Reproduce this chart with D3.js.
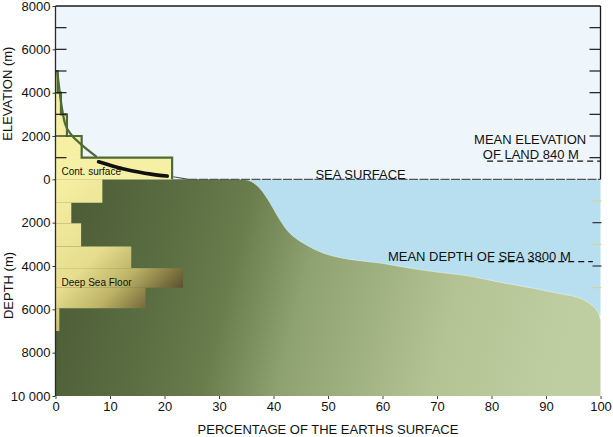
<!DOCTYPE html>
<html><head><meta charset="utf-8">
<script src="https://cdn.jsdelivr.net/npm/d3@7"></script>
<style>body{margin:0;background:#fff}svg{display:block;font-family:"Liberation Sans",Arial,Helvetica,sans-serif}</style>
</head><body><svg id="c" width="613" height="437"></svg>
<script>
// ---------- data ----------
const xTicks = [0,10,20,30,40,50,60,70,80,90,100];
const yTicks = [8000,6000,4000,2000,0,-2000,-4000,-6000,-8000,-10000];
const innerTicks = [1000,2000,3000,4000,5000,6000,7000];
const seaSideTicks = [-1000,-2000,-3000,-4000,-5000];

// land elevation histogram (% of Earth's surface per 1000 m band)
const landBandBottom = [0,1000,2000,3000,4000];
const landBandTop    = [1000,2000,3000,4000,5000];
const landBandPct    = [21.4,4.8,2.1,1.0,0.4];

// ocean depth histogram
const oceanBandTop    = [0,1080,2030,3100,4100,5000,5950];
const oceanBandBottom = [1080,2030,3100,4100,5000,5950,7000];
const oceanBandPct    = [8.6,2.9,4.7,13.9,23.4,16.5,0.7];

// cumulative (hypsographic) curve, land part
const landCurvePct  = [0.33,1.14,1.74,2.97,4.5,7.56];
const landCurveElev = [4965,3350,2580,2045,1660,1040];
// continental surface segment
const contPct  = [7.9,10,12.5,15,17.5,20.5];
const contElev = [810,650,480,350,240,150];

// cumulative curve, ocean part (depth in m)
const oceanCurvePct   = [33.5,35,36,37.5,39.4,41.2,43,45.5,49.2,53,57.1,59.5,65.6,70,74.8,77.9,82,87.1,92,96.2,98.6,99.6,100];
const oceanCurveDepth = [0,20,110,415,1100,1880,2490,2950,3410,3650,3790,3860,4120,4280,4420,4560,4770,5000,5250,5480,5850,6150,6500];

const meanLandElev = 840;
const meanSeaDepth = 3800;

// ---------- drawing ----------
const svg = d3.select("#c");
const x = d3.scaleLinear([0,100],[55.5,600.5]);
const y = d3.scaleLinear([-10000,8000],[396,6]);

const defs = svg.append("defs");
const gg = defs.append("linearGradient").attr("id","green").attr("x1","0").attr("y1","0").attr("x2","1").attr("y2","0.1");
[[0,"#4a5934"],[0.23,"#5b6e42"],[0.36,"#687c4c"],[0.5,"#8ea170"],[0.78,"#b4c394"],[1,"#bfcea0"]].forEach(s=>gg.append("stop").attr("offset",s[0]).attr("stop-color",s[1]));
const yg = defs.append("linearGradient").attr("id","yellow").attr("gradientUnits","userSpaceOnUse")
  .attr("x1",x(0)).attr("y1",y(-500)).attr("x2",x(23)).attr("y2",y(-6200));
[[0,"#f5efa2"],[0.42,"#e6dd8e"],[0.64,"#bdb266"],[0.84,"#72683a"],[1,"#3a3320"]].forEach(s=>yg.append("stop").attr("offset",s[0]).attr("stop-color",s[1]));

// sky
svg.append("rect").attr("x",x(0)).attr("y",y(8000)).attr("width",x(100)-x(0)).attr("height",y(0)-y(8000)).attr("fill","#eef6fb");
// ocean water
svg.append("rect").attr("x",x(30)).attr("y",y(0)).attr("width",x(100)-x(30)).attr("height",y(-6300)-y(0)).attr("fill","#b8dff0");

// sea floor (green) area
const oceanPts = oceanCurvePct.map((p,i)=>[x(p),y(-oceanCurveDepth[i])]);
const curveStr = d3.line().curve(d3.curveCatmullRom.alpha(0.5))(oceanPts);
const floorPath = curveStr + "L" + x(100) + "," + y(-10000) + "L" + x(0) + "," + y(-10000) + "L" + x(0) + "," + y(0) + "Z";
svg.append("path").attr("d",floorPath).attr("fill","url(#green)");
svg.append("path").attr("d",curveStr).attr("fill","none").attr("stroke","#eaf4ee").attr("stroke-width",0.8).attr("opacity",0.7);

// ocean histogram
svg.selectAll("rect.ob").data(oceanBandPct).join("rect").attr("class","ob")
  .attr("x",x(0)).attr("width",d=>x(d)-x(0))
  .attr("y",(d,i)=>y(-oceanBandTop[i])).attr("height",(d,i)=>y(-oceanBandBottom[i])-y(-oceanBandTop[i]))
  .attr("fill","url(#yellow)");

// land histogram
svg.selectAll("rect.lb").data(landBandPct).join("rect").attr("class","lb")
  .attr("x",x(0)).attr("width",d=>x(d)-x(0))
  .attr("y",(d,i)=>y(landBandTop[i])).attr("height",(d,i)=>y(landBandBottom[i])-y(landBandTop[i]))
  .attr("fill","#f6f0a4");
const stepPts = [];
landBandPct.forEach((p,i)=>{stepPts.push([x(p),y(landBandBottom[i])]);stepPts.push([x(p),y(landBandTop[i])]);});
stepPts.push([x(0),y(landBandTop[landBandTop.length-1])]);
svg.append("path").attr("d",d3.line()(stepPts)).attr("fill","none").attr("stroke","#4f6a36").attr("stroke-width",2.2);

// land cumulative curve
svg.append("path").attr("d",d3.line().curve(d3.curveMonotoneX)(landCurvePct.map((p,i)=>[x(p),y(landCurveElev[i])])))
  .attr("fill","none").attr("stroke","#4f6a36").attr("stroke-width",2.2);
svg.append("path").attr("d",d3.line().curve(d3.curveMonotoneX)(contPct.map((p,i)=>[x(p),y(contElev[i])])))
  .attr("fill","none").attr("stroke","#111").attr("stroke-width",3.6).attr("stroke-linecap","round");

// sea surface line
svg.append("line").attr("x1",x(21.6)).attr("y1",y(120)).attr("x2",x(24.4)).attr("y2",y(0)).attr("stroke","#555").attr("stroke-width",1.2);
svg.append("line").attr("x1",x(24.4)).attr("x2",x(100)).attr("y1",y(0)).attr("y2",y(0))
  .attr("stroke","#555").attr("stroke-width",1.3).attr("stroke-dasharray","9,1.5");

// mean lines
svg.append("line").attr("x1",x(79.2)).attr("x2",x(100)).attr("y1",y(meanLandElev)).attr("y2",y(meanLandElev))
  .attr("stroke","#111").attr("stroke-width",1.3).attr("stroke-dasharray","6,4");
svg.append("line").attr("x1",x(79.4)).attr("x2",x(98.6)).attr("y1",y(-meanSeaDepth)).attr("y2",y(-meanSeaDepth))
  .attr("stroke","#111").attr("stroke-width",1.3).attr("stroke-dasharray","6,4");

// frame
const fr = svg.append("g").attr("stroke","#1a1a1a").attr("stroke-width",1.3).attr("fill","none");
fr.append("line").attr("x1",x(0)).attr("x2",x(100)).attr("y1",y(8000)).attr("y2",y(8000));
fr.append("line").attr("x1",x(100)).attr("x2",x(100)).attr("y1",y(8000)).attr("y2",y(0));
fr.append("line").attr("x1",x(0)).attr("x2",x(0)).attr("y1",y(8000)).attr("y2",y(-10000)).attr("stroke","#2a2a2a");
// inner ticks above sea level
svg.selectAll("line.il").data(innerTicks).join("line").attr("class","il")
  .attr("x1",x(0)).attr("x2",x(0)+11).attr("y1",d=>y(d)).attr("y2",d=>y(d)).attr("stroke","#1a1a1a").attr("stroke-width",1.2);
svg.selectAll("line.ir").data(innerTicks).join("line").attr("class","ir")
  .attr("x1",x(100)).attr("x2",x(100)-11).attr("y1",d=>y(d)).attr("y2",d=>y(d)).attr("stroke","#1a1a1a").attr("stroke-width",1.2);
svg.selectAll("line.sr").data(seaSideTicks).join("line").attr("class","sr")
  .attr("x1",x(100)+1).attr("x2",x(100)-8).attr("y1",d=>y(d)).attr("y2",d=>y(d))
  .attr("stroke",d=>(d%2000===0)?"#333":"#d3d58e").attr("stroke-width",1.2);

// axes
const fmt = d => Math.abs(d)===10000 ? "10 000" : String(Math.abs(d));
const ax = svg.append("g").attr("transform",`translate(${x(0)},0)`)
  .call(d3.axisLeft(y).tickValues(yTicks).tickFormat(fmt).tickSizeInner(3).tickSizeOuter(0).tickPadding(2));
ax.select(".domain").remove();
ax.selectAll("text").attr("font-size",13).attr("fill","#111").attr("font-family","Liberation Sans, Arial, sans-serif");
ax.selectAll("line").attr("stroke","#333");
const bx = svg.append("g").attr("transform",`translate(0,${y(-10000)})`)
  .call(d3.axisBottom(x).tickValues(xTicks).tickSizeInner(3).tickSizeOuter(0).tickPadding(3));
bx.select(".domain").remove();
bx.selectAll("text").attr("font-size",13).attr("fill","#111").attr("font-family","Liberation Sans, Arial, sans-serif");
bx.selectAll("line").attr("stroke","#444");

// texts
const t = (txt,px,py,size,opts={}) => {
  const e = svg.append("text").attr("x",px).attr("y",py).attr("font-size",size).attr("fill","#111").text(txt);
  if(opts.anchor) e.attr("text-anchor",opts.anchor);
  if(opts.rot) e.attr("transform",`rotate(-90,${px},${py})`);
  return e;
};
t("ELEVATION (m)",12.5,y(4000)+1,13,{anchor:"middle",rot:true});
t("DEPTH (m)",12.5,y(-4900),13,{anchor:"middle",rot:true});
t("PERCENTAGE OF THE EARTHS SURFACE",x(50),434,13,{anchor:"middle"});
t("SEA SURFACE",x(47.7),y(0),13);
t("MEAN ELEVATION",x(76.8),y(1650),13);
t("OF LAND 840 M",x(78.4),y(930),13);
t("MEAN DEPTH OF SEA 3800 M",x(61.0),y(-3770),13);
t("Cont. surface",x(1.1),y(200),10);
t("Deep Sea Floor",x(1.1),y(-4900),10);
</script></body></html>
